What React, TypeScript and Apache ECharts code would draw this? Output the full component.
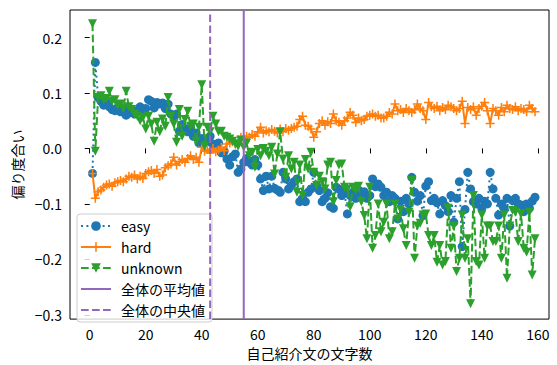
import React, { useEffect, useRef } from 'react';
import * as echarts from 'echarts';

// 自己紹介文の文字数 (x): 1..159
const lengths: number[] = Array.from({ length: 159 }, (_, i) => i + 1);

const easy: number[] = [
  -0.045, 0.155, 0.092, 0.085, 0.078, 0.082, 0.075, 0.070, 0.068, 0.074,
  0.066, 0.072, 0.060, 0.064, 0.070, 0.062, 0.068, 0.075, 0.070, 0.072,
  0.088, 0.085, 0.073, 0.083, 0.080, 0.082, 0.072, 0.080, 0.062, 0.058,
  0.062, 0.031, 0.043, 0.035, 0.030, 0.038, 0.022, 0.028, 0.010, 0.018,
  0.015, 0.012, 0.022, 0.008, 0.004, 0.010, -0.008, -0.005, -0.019, -0.030,
  -0.015, -0.010, -0.043, -0.037, -0.025, -0.018, -0.025, -0.030, -0.020, -0.030,
  -0.055, -0.076, -0.050, -0.073, -0.050, -0.072, -0.075, -0.079, -0.043, -0.055,
  -0.073, -0.067, -0.060, -0.055, -0.096, -0.090, -0.096, -0.079, -0.073, -0.043,
  -0.067, -0.076, -0.096, -0.090, -0.080, -0.105, -0.108, -0.070, -0.073, -0.085,
  -0.080, -0.118, -0.085, -0.079, -0.090, -0.075, -0.085, -0.078, -0.090, -0.085,
  -0.055, -0.069, -0.064, -0.070, -0.085, -0.079, -0.096, -0.085, -0.090, -0.127,
  -0.095, -0.114, -0.090, -0.100, -0.052, -0.079, -0.095, -0.085, -0.121, -0.068,
  -0.060, -0.094, -0.090, -0.098, -0.118, -0.094, -0.103, -0.114, -0.085, -0.133,
  -0.090, -0.060, -0.177, -0.110, -0.043, -0.073, -0.096, -0.100, -0.090, -0.108,
  -0.095, -0.100, -0.043, -0.073, -0.090, -0.120, -0.100, -0.108, -0.090, -0.140,
  -0.094, -0.090, -0.100, -0.102, -0.114, -0.100, -0.108, -0.095, -0.088,
];

const hard: number[] = [
  -0.045, -0.090, -0.078, -0.075, -0.070, -0.066, -0.064, -0.068, -0.062, -0.060,
  -0.058, -0.060, -0.055, -0.050, -0.052, -0.048, -0.055, -0.050, -0.054, -0.045,
  -0.042, -0.040, -0.045, -0.038, -0.050, -0.048, -0.035, -0.031, -0.028, -0.016,
  -0.030, -0.024, -0.020, -0.025, -0.018, -0.013, -0.020, -0.016, -0.025, 0.002,
  -0.005, -0.002, -0.008, 0.000, -0.006, -0.003, 0.002, -0.004, 0.008, 0.010,
  0.012, 0.008, 0.015, 0.020, 0.018, 0.022, 0.020, 0.025, 0.022, 0.030,
  0.038, 0.028, 0.032, 0.030, 0.034, 0.031, 0.028, 0.035, 0.030, 0.036,
  0.033, 0.036, 0.038, 0.040, 0.052, 0.058, 0.042, 0.040, 0.035, 0.020,
  0.030, 0.045, 0.050, 0.042, 0.048, 0.045, 0.062, 0.050, 0.047, 0.042,
  0.050, 0.055, 0.065, 0.060, 0.047, 0.055, 0.050, 0.052, 0.058, 0.060,
  0.062, 0.058, 0.060, 0.055, 0.055, 0.058, 0.065, 0.062, 0.080, 0.068,
  0.070, 0.065, 0.072, 0.068, 0.065, 0.070, 0.080, 0.072, 0.068, 0.052,
  0.083, 0.075, 0.072, 0.076, 0.068, 0.074, 0.070, 0.078, 0.075, 0.072,
  0.068, 0.072, 0.085, 0.045, 0.074, 0.070, 0.075, 0.060, 0.072, 0.076,
  0.083, 0.068, 0.045, 0.072, 0.068, 0.060, 0.074, 0.066, 0.078, 0.072,
  0.070, 0.075, 0.068, 0.072, 0.070, 0.066, 0.078, 0.072, 0.066,
];

const unknown: number[] = [
  0.225, -0.005, 0.092, 0.095, 0.088, 0.090, 0.103, 0.085, 0.088, 0.078,
  0.080, 0.072, 0.103, 0.075, 0.070, 0.062, 0.058, 0.050, 0.056, 0.035,
  0.058, 0.044, 0.013, 0.047, 0.030, 0.053, 0.040, 0.092, 0.058, 0.044,
  0.011, 0.070, 0.022, 0.052, 0.067, 0.040, 0.044, 0.013, 0.038, 0.115,
  0.004, 0.038, 0.030, 0.058, 0.044, 0.030, 0.031, 0.022, 0.020, 0.017,
  0.013, 0.008, 0.004, 0.015, 0.002, 0.010, -0.013, -0.007, -0.034, -0.002,
  -0.013, 0.000, -0.005, -0.013, 0.002, -0.046, -0.010, 0.030, -0.019, -0.052,
  -0.013, -0.037, -0.025, -0.079, -0.030, -0.085, -0.020, -0.037, -0.007, -0.043,
  -0.067, -0.050, -0.060, -0.073, -0.030, -0.025, -0.096, -0.058, -0.030, -0.028,
  -0.070, -0.073, -0.105, -0.070, -0.075, -0.068, -0.096, -0.121, -0.163, -0.070,
  -0.180, -0.157, -0.100, -0.150, -0.133, -0.100, -0.163, -0.150, -0.100, -0.127,
  -0.110, -0.145, -0.175, -0.115, -0.058, -0.198, -0.140, -0.135, -0.120, -0.118,
  -0.157, -0.175, -0.157, -0.205, -0.175, -0.210, -0.204, -0.108, -0.180, -0.140,
  -0.222, -0.198, -0.120, -0.198, -0.163, -0.280, -0.085, -0.204, -0.210, -0.120,
  -0.198, -0.140, -0.140, -0.168, -0.168, -0.140, -0.198, -0.120, -0.234, -0.140,
  -0.112, -0.115, -0.168, -0.118, -0.180, -0.187, -0.115, -0.228, -0.163,
];

const meanLength = 55;
const medianLength = 43;

const xTicks: number[] = [0, 20, 40, 60, 80, 100, 120, 140, 160];
const yTicks: number[] = [-0.3, -0.2, -0.1, 0.0, 0.1, 0.2];

const X_MIN = -7.04;
const X_MAX = 164.0;
const Y_MIN = -0.3077;
const Y_MAX = 0.2496;

const FONT = '"Noto Sans CJK JP", "Noto Sans", sans-serif';
const BLUE = '#1f77b4';
const ORANGE = '#ff7f0e';
const GREEN = '#2ca02c';
const PURPLE = '#9467bd';

const PLUS = 'path://M-0.17,-1L0.17,-1L0.17,-0.17L1,-0.17L1,0.17L0.17,0.17L0.17,1L-0.17,1L-0.17,0.17L-1,0.17L-1,-0.17L-0.17,-0.17Z';
const TRI_DOWN = 'path://M-1,-1L1,-1L0,1Z';

export default function App() {
  const ref = useRef<HTMLDivElement>(null);
  useEffect(() => {
    if (!ref.current) return;
    const chart = echarts.init(ref.current, null, { renderer: 'svg' });
    const pairs = (ys: number[]) => lengths.map((x, i) => [x, ys[i]]);
    const yFmt = (v: number) => {
      const r = Math.round(v * 10) / 10;
      if (Math.abs(r) < 1e-9) return '0.0';
      return (r < 0 ? '\u2212' : '') + Math.abs(r).toFixed(1);
    };
    chart.setOption({
      animation: false,
      backgroundColor: '#ffffff',
      textStyle: { fontFamily: FONT },
      grid: {
        left: 70, right: 8, top: 10, bottom: 44,
        show: true, borderColor: '#000', borderWidth: 1, backgroundColor: 'transparent',
      },
      xAxis: {
        type: 'value', min: X_MIN, max: X_MAX,
        name: '自己紹介文の文字数', nameLocation: 'middle', nameGap: 25,
        nameTextStyle: { fontSize: 14, color: '#000', fontFamily: FONT },
        axisLine: { show: false },
        axisTick: { show: true, length: 5, lineStyle: { color: '#000', width: 1 }, customValues: xTicks },
        axisLabel: { fontSize: 14, color: '#000', margin: 8, fontFamily: FONT, customValues: xTicks, formatter: (v: number) => String(Math.round(v)) },
        splitLine: { show: false },
      },
      yAxis: {
        type: 'value', min: Y_MIN, max: Y_MAX,
        name: '偏り度合い', nameLocation: 'middle', nameGap: 38,
        nameTextStyle: { fontSize: 14, color: '#000', fontFamily: FONT },
        axisLine: { show: false },
        axisTick: { show: true, length: 5, lineStyle: { color: '#000', width: 1 }, customValues: yTicks },
        axisLabel: { fontSize: 14, color: '#000', margin: 8, fontFamily: FONT, customValues: yTicks, formatter: yFmt },
        splitLine: { show: false },
      },
      legend: {
        orient: 'vertical', left: 77, top: 214,
        itemWidth: 30, itemHeight: 12, itemGap: 7,
        padding: [5, 7, 5, 3],
        backgroundColor: 'rgba(255,255,255,0.8)',
        borderColor: '#cccccc', borderWidth: 1, borderRadius: 3,
        textStyle: { fontSize: 14, color: '#000', fontFamily: FONT, padding: [0, 0, 0, 5] },
        data: [
          { name: 'easy' },
          { name: 'hard' },
          { name: 'unknown' },
          { name: '全体の平均値', itemStyle: { opacity: 0 } },
          { name: '全体の中央値', itemStyle: { opacity: 0 } },
        ],
      },
      series: [
        {
          name: 'easy', type: 'line', data: pairs(easy),
          symbol: 'circle', symbolSize: 9, showAllSymbol: true,
          itemStyle: { color: BLUE },
          lineStyle: { color: BLUE, width: 2, type: [2, 3.4] },
          z: 2,
        },
        {
          name: 'hard', type: 'line', data: pairs(hard),
          symbol: PLUS, symbolSize: 9, showAllSymbol: true,
          itemStyle: { color: ORANGE },
          lineStyle: { color: ORANGE, width: 2 },
          z: 3,
        },
        {
          name: 'unknown', type: 'line', data: pairs(unknown),
          symbol: TRI_DOWN, symbolSize: 9, showAllSymbol: true,
          itemStyle: { color: GREEN },
          lineStyle: { color: GREEN, width: 2, type: [7.7, 3.3] },
          z: 4,
        },
        {
          name: '全体の平均値', type: 'line',
          data: [[meanLength, Y_MIN], [meanLength, Y_MAX]],
          symbol: 'none', itemStyle: { color: PURPLE },
          lineStyle: { color: PURPLE, width: 2 },
          z: 5,
        },
        {
          name: '全体の中央値', type: 'line',
          data: [[medianLength, Y_MIN], [medianLength, Y_MAX]],
          symbol: 'none', itemStyle: { color: PURPLE },
          lineStyle: { color: PURPLE, width: 2, type: [7.7, 3.3] },
          z: 5,
        },
      ],
    });
    return () => chart.dispose();
  }, []);
  return <div ref={ref} style={{ position: 'absolute', left: 0, top: 0, width: 557, height: 365 }} />;
}
